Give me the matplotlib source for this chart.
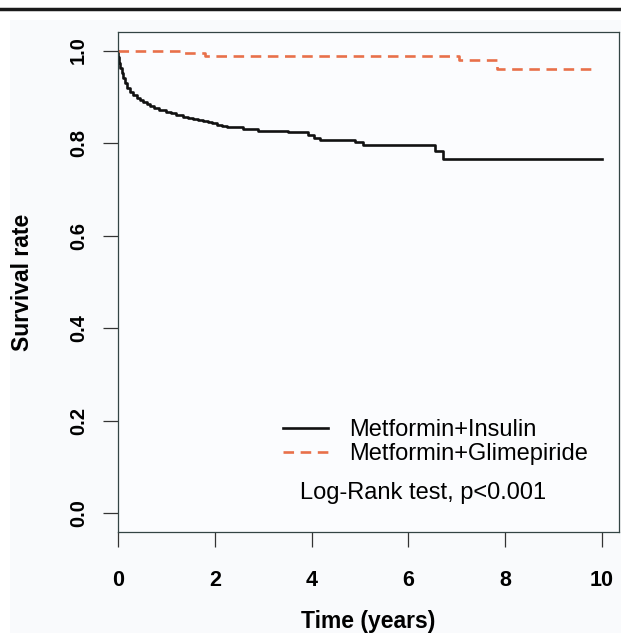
import numpy as np
import matplotlib
matplotlib.use('Agg')
import matplotlib.pyplot as plt
from matplotlib.lines import Line2D
from matplotlib.patches import Rectangle

plt.rcParams['font.family'] = ['Liberation Sans', 'DejaVu Sans']

# Kaplan-Meier steps
t_ins = [0, 0.01, 0.025, 0.05, 0.08, 0.11, 0.14, 0.19, 0.25, 0.32, 0.39, 0.45, 0.52, 0.59, 0.66, 0.75,
         0.85, 1.0, 1.1, 1.2, 1.35, 1.45, 1.55, 1.65, 1.76, 1.85, 1.95, 2.05, 2.15, 2.25, 2.59, 2.89,
         3.51, 3.93, 4.05, 4.17, 4.9, 5.07, 6.55, 6.71, 9.99]
s_ins = [1.0, 0.985, 0.973, 0.962, 0.951, 0.940, 0.930, 0.920, 0.911, 0.904, 0.898, 0.893, 0.889, 0.884,
         0.880, 0.876, 0.872, 0.868, 0.864, 0.861, 0.856, 0.854, 0.852, 0.850, 0.848, 0.846, 0.843, 0.840,
         0.837, 0.834, 0.831, 0.826, 0.823, 0.818, 0.812, 0.807, 0.802, 0.796, 0.782, 0.765, 0.765]

t_gli = [0, 1.34, 1.8, 7.05, 7.82, 9.81]
s_gli = [1.0, 0.994, 0.989, 0.979, 0.961, 0.961]

xticks = [0, 2, 4, 6, 8, 10]
yticks = [0.0, 0.2, 0.4, 0.6, 0.8, 1.0]
labels = ['Metformin+Insulin', 'Metformin+Glimepiride']
orange = '#e8704a'

fig = plt.figure(figsize=(6.21, 6.33), dpi=100)
fig.patches.append(Rectangle((10/621, 0), 1, 1 - 20/633, transform=fig.transFigure,
                             facecolor='#f9fafc', edgecolor='none', zorder=-1))
fig.add_artist(Line2D([0, 1], [1 - 9/633, 1 - 9/633], color='#1a1a1a', lw=2.5, transform=fig.transFigure))

ax = fig.add_axes([118/621, 1 - 532/633, (619-118)/621, (532-32)/633])
ax.set_facecolor('#fbfcfe')

ax.step(t_ins, s_ins, where='post', color='#111111', lw=1.9)
ax.step(t_gli, s_gli, where='post', color=orange, lw=1.9, dashes=(4, 2.5))

ax.set_xlim(0, 10.35)
ax.set_ylim(-0.04, 1.04)
ax.set_xticks(xticks)
ax.set_yticks(yticks)
ax.set_xticklabels([str(v) for v in xticks], fontsize=15.5, fontweight='bold')
ax.set_yticklabels(['%.1f' % v for v in yticks], fontsize=14.5, fontweight='bold', rotation=90, va='center')
ax.tick_params(axis='both', direction='out', length=11, width=0.9, color='#333333')
ax.tick_params(axis='x', pad=16)
ax.tick_params(axis='y', pad=10.5)
for sp in ax.spines.values():
    sp.set_linewidth(0.9)
    sp.set_color('#334444')

ax.set_xlabel('Time (years)', fontsize=16.5, fontweight='bold', labelpad=14)
ax.set_ylabel('Survival rate', fontsize=16.5, fontweight='bold', labelpad=25)

h1 = Line2D([], [], color='#111111', lw=1.9)
h2 = Line2D([], [], color=orange, lw=1.9, dashes=(4, 2.5))
ax.legend([h1, h2], labels, loc='upper left', bbox_to_anchor=(0.329, 0.226), frameon=False,
          fontsize=17, handlelength=1.9, handletextpad=0.9, labelspacing=0.1, borderpad=0,
          borderaxespad=0)
ax.text(0.609, 0.0659, 'Log-Rank test, p<0.001', transform=ax.transAxes, fontsize=17,
        ha='center', va='baseline')

fig.savefig('out.png', dpi=100)
